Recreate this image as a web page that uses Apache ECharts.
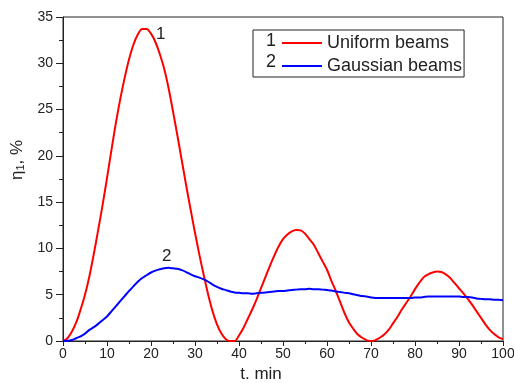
<!DOCTYPE html>
<html>
<head>
<meta charset="utf-8">
<script src="https://cdn.jsdelivr.net/npm/echarts@6/dist/echarts.min.js"></script>
<style>
  html, body { margin: 0; padding: 0; background: #fff; }
  #chart { width: 514px; height: 383px; }
</style>
</head>
<body>
<div id="chart"></div>
<script>
// Time, min
const time = [];
for (let t = 0; t <= 100; t++) time.push(t);

// Diffraction efficiency, %: uniform beams (curve 1)
const uniform = [
  0, 0.3, 1.0, 2.0, 3.4, 5.0, 7.0, 9.4, 12.0, 14.7,
  17.6, 20.6, 23.5, 26.1, 28.4, 30.4, 32.0, 33.1, 33.7, 33.7,
  33.2, 32.3, 31.0, 29.4, 27.3, 24.8, 22.2, 19.5, 16.8, 14.2,
  11.7, 9.3, 7.1, 5.0, 3.2, 1.8, 0.8, 0.2, 0, 0,
  0.6, 1.4, 2.4, 3.4, 4.5, 5.7, 6.9, 8.1, 9.2, 10.2,
  11.0, 11.5, 11.85, 12.0, 11.95, 11.6, 11.0, 10.4, 9.5, 8.6,
  7.7, 6.5, 5.4, 4.2, 3.0, 2.0, 1.3, 0.7, 0.35, 0.1,
  0, 0.1, 0.35, 0.7, 1.2, 1.9, 2.6, 3.4, 4.1, 4.8,
  5.6, 6.3, 6.9, 7.2, 7.4, 7.5, 7.45, 7.2, 6.8, 6.25,
  5.7, 5.15, 4.55, 3.9, 3.2, 2.5, 1.8, 1.2, 0.75, 0.4,
  0.2
];

// Diffraction efficiency, %: Gaussian beams (curve 2)
const gaussian = [
  0, 0.02, 0.1, 0.3, 0.5, 0.8, 1.2, 1.5, 1.85, 2.25,
  2.65, 3.2, 3.75, 4.3, 4.85, 5.4, 5.9, 6.4, 6.8, 7.1,
  7.4, 7.6, 7.75, 7.85, 7.9, 7.85, 7.8, 7.65, 7.45, 7.2,
  7.0, 6.85, 6.65, 6.4, 6.1, 5.85, 5.65, 5.5, 5.35, 5.25,
  5.2, 5.15, 5.15, 5.1, 5.15, 5.2, 5.25, 5.3, 5.35, 5.4,
  5.4, 5.45, 5.5, 5.55, 5.6, 5.6, 5.65, 5.6, 5.6, 5.55,
  5.5, 5.45, 5.35, 5.3, 5.2, 5.15, 5.05, 4.95, 4.85, 4.8,
  4.7, 4.65, 4.65, 4.65, 4.65, 4.65, 4.65, 4.65, 4.65, 4.65,
  4.7, 4.7, 4.75, 4.8, 4.8, 4.8, 4.8, 4.8, 4.8, 4.8,
  4.8, 4.75, 4.75, 4.7, 4.6, 4.55, 4.5, 4.5, 4.45, 4.45,
  4.4
];

const seriesNames = ['Uniform beams', 'Gaussian beams'];
const seriesNumbers = ['1', '2'];
const seriesColors = ['#ff0000', '#0000ff'];

// Where the curve numbers sit, in data units
const curveTagAt = [[22.2, 33.1], [23.6, 9.2]];

const xTicks = { min: 0, max: 100, interval: 10 };
const yTicks = { min: 0, max: 35, interval: 5 };

const FONT = 'Liberation Sans, Arial, sans-serif';
const INK = '#222';

const pairs = (ys) => time.map((t, i) => [t, ys[i]]);

const chart = echarts.init(document.getElementById('chart'), null, { renderer: 'canvas' });

const option = {
  animation: false,
  backgroundColor: '#fff',
  grid: {
    left: 63, right: 11, top: 17, bottom: 42,
    containLabel: false,
    outerBoundsMode: 'none',
    show: true, borderColor: INK, borderWidth: 1, backgroundColor: 'transparent'
  },
  xAxis: {
    type: 'value',
    min: xTicks.min, max: xTicks.max, interval: xTicks.interval,
    name: 't. min',
    nameLocation: 'middle',
    nameGap: 25,
    nameTextStyle: { fontFamily: FONT, fontSize: 17, color: INK, padding: [0, 44, 0, 0] },
    axisLine: { show: true, lineStyle: { color: INK, width: 1 } },
    axisTick: { show: true, inside: false, length: 5, lineStyle: { color: INK } },
    minorTick: { show: true, splitNumber: 2, length: 3, lineStyle: { color: INK } },
    splitLine: { show: false },
    axisLabel: { fontFamily: FONT, fontSize: 14, color: INK, margin: 6 }
  },
  yAxis: {
    type: 'value',
    min: yTicks.min, max: yTicks.max, interval: yTicks.interval,
    name: '{n|η}{s|1}{n|, %}',
    nameLocation: 'middle',
    nameGap: 37,
    nameRotate: 90,
    nameTextStyle: {
      fontFamily: FONT, color: INK,
      padding: [0, 0, 0, 38],
      rich: {
        n: { fontFamily: FONT, fontSize: 17, color: INK },
        s: { fontFamily: FONT, fontSize: 11, color: INK, verticalAlign: 'bottom', padding: [7, 0, 0, 0] }
      }
    },
    axisLine: { show: true, lineStyle: { color: INK, width: 1 } },
    axisTick: { show: true, inside: false, length: 7, lineStyle: { color: INK } },
    minorTick: { show: true, splitNumber: 2, length: 4, lineStyle: { color: INK } },
    splitLine: { show: false },
    axisLabel: { fontFamily: FONT, fontSize: 14, color: INK, margin: 10 }
  },
  legend: {
    orient: 'vertical',
    left: 253, top: 30,
    padding: [4, 2, 2, 29],
    itemGap: 5,
    itemWidth: 40, itemHeight: 2,
    icon: 'rect',
    borderColor: INK, borderWidth: 1,
    textStyle: { fontFamily: FONT, fontSize: 18, color: INK, lineHeight: 16 },
    data: seriesNames
  },
  series: seriesNames.map((name, k) => ({
    name,
    type: 'line',
    data: pairs(k === 0 ? uniform : gaussian),
    showSymbol: false,
    smooth: 0.3,
    lineStyle: { color: seriesColors[k], width: 2 },
    itemStyle: { color: seriesColors[k] },
    markPoint: {
      silent: true,
      symbol: 'circle', symbolSize: 0,
      label: {
        show: true, position: 'inside', formatter: seriesNumbers[k],
        fontFamily: FONT, fontSize: 17, color: INK
      },
      data: [{ coord: curveTagAt[k] }]
    }
  })),
  // Curve numbers in front of the legend rows
  graphic: seriesNumbers.map((num, k) => ({
    type: 'text',
    x: 271, y: 41.5 + 21 * k,
    style: {
      text: num, fontFamily: FONT, fontSize: 18, fill: INK,
      align: 'center', verticalAlign: 'middle'
    }
  }))
};

chart.setOption(option);
</script>
</body>
</html>
